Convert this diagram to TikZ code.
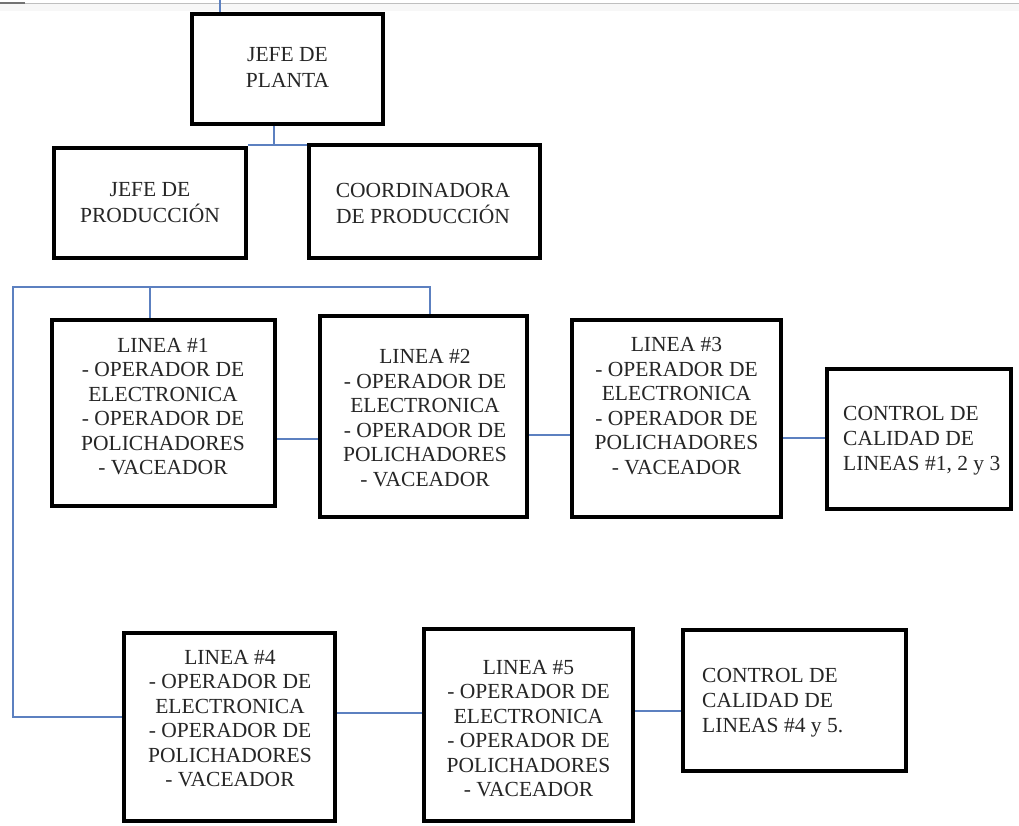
\documentclass[tikz,border=0pt]{standalone}
\usepackage{fontspec}
\setmainfont{Liberation Serif}
\usetikzlibrary{fit}
\definecolor{linkblue}{RGB}{92,128,192}
\definecolor{inkgray}{RGB}{38,38,38}
\tikzset{
  box/.style={draw=black, line width=4pt, inner sep=0pt},
  lbl/.style={inner sep=0pt, align=center, text=inkgray,
              font=\fontsize{21.5}{24.5}\selectfont},
  toplbl/.style={lbl, font=\fontsize{21.5}{26}\selectfont},
  qclbl/.style={lbl, align=left, anchor=west,
                font=\fontsize{21.5}{25}\selectfont},
  link/.style={draw=linkblue, line width=1.4pt},
}
\begin{document}
\begin{tikzpicture}[x=1pt, y=-1pt]
  \useasboundingbox (0,0) rectangle (1019,826);
  \fill[white] (0,0) rectangle (1019,826);

  % page edge at the top
  \fill[black!3] (0,4.5) rectangle (1019,11);
  \draw[black!25, line width=1.2pt] (0,3.5) -- (1019,3.5);
  \draw[black!55, line width=1.2pt] (0,3) -- (25,3);

  % boxes (path through the middle of the 4pt border)
  \node[box, fit={(192,14) (383,124)}]   (jp)    {};
  \node[box, fit={(54,148) (246,258)}]   (jprod) {};
  \node[box, fit={(309,145) (540,258)}]  (coord) {};
  \node[box, fit={(52,320) (275,506)}]   (l1)    {};
  \node[box, fit={(320,316) (527,517)}]  (l2)    {};
  \node[box, fit={(572,320) (781,517)}]  (l3)    {};
  \node[box, fit={(827,369) (1011,509)}] (qc1)   {};
  \node[box, fit={(124,633) (335,821)}]  (l4)    {};
  \node[box, fit={(424,629) (633,821)}]  (l5)    {};
  \node[box, fit={(683,630) (906,771)}]  (qc2)   {};

  % texts
  \node[toplbl] (jpT)    at (287.5,67.5) {JEFE DE\\PLANTA};
  \node[toplbl] (jprodT) at (150,202.5)  {JEFE DE\\PRODUCCIÓN};
  \node[toplbl] (coordT) at (423,203)    {COORDINADORA\\DE PRODUCCIÓN};

  \node[lbl] (l1T) at (163,406.5) {LINEA \#1\\- OPERADOR DE\\ELECTRONICA\\- OPERADOR DE\\POLICHADORES\\- VACEADOR};
  \node[lbl] (l2T) at (425,418)   {LINEA \#2\\- OPERADOR DE\\ELECTRONICA\\- OPERADOR DE\\POLICHADORES\\- VACEADOR};
  \node[lbl] (l3T) at (676.5,406) {LINEA \#3\\- OPERADOR DE\\ELECTRONICA\\- OPERADOR DE\\POLICHADORES\\- VACEADOR};
  \node[lbl] (l4T) at (230,718.5) {LINEA \#4\\- OPERADOR DE\\ELECTRONICA\\- OPERADOR DE\\POLICHADORES\\- VACEADOR};
  \node[lbl] (l5T) at (528.5,728.5) {LINEA \#5\\- OPERADOR DE\\ELECTRONICA\\- OPERADOR DE\\POLICHADORES\\- VACEADOR};

  \node[qclbl] (qc1T) at (843,441) {CONTROL DE\\CALIDAD DE\\LINEAS \#1, 2 y 3};
  \node[qclbl] (qc2T) at (702,703) {CONTROL DE\\CALIDAD DE\\LINEAS \#4 y 5.};

  % connectors
  \coordinate (feed)  at (220,0);
  \coordinate (split) at (274,145);
  \coordinate (busL)  at (13,287);
  \coordinate (busR)  at (430,287);
  \coordinate (tap1)  at (150,287);
  \coordinate (low)   at (13,717);

  \draw[link] (feed) -- (feed |- jp.north);
  \draw[link] (jp.south -| split) -- (split);
  \draw[link] (jprod.east |- split) -- (coord.west |- split);

  \draw[link] (l2.north -| busR) -- (busR) -- (busL) -- (low) -- (l4.west |- low);
  \draw[link] (tap1) -- (tap1 |- l1.north);

  \draw[link] (l1.east |- 0,439) -- (l2.west |- 0,439);
  \draw[link] (l2.east |- 0,435) -- (l3.west |- 0,435);
  \draw[link] (l3.east |- 0,438) -- (qc1.west |- 0,438);
  \draw[link] (l4.east |- 0,713) -- (l5.west |- 0,713);
  \draw[link] (l5.east |- 0,711) -- (qc2.west |- 0,711);
\end{tikzpicture}
\end{document}
